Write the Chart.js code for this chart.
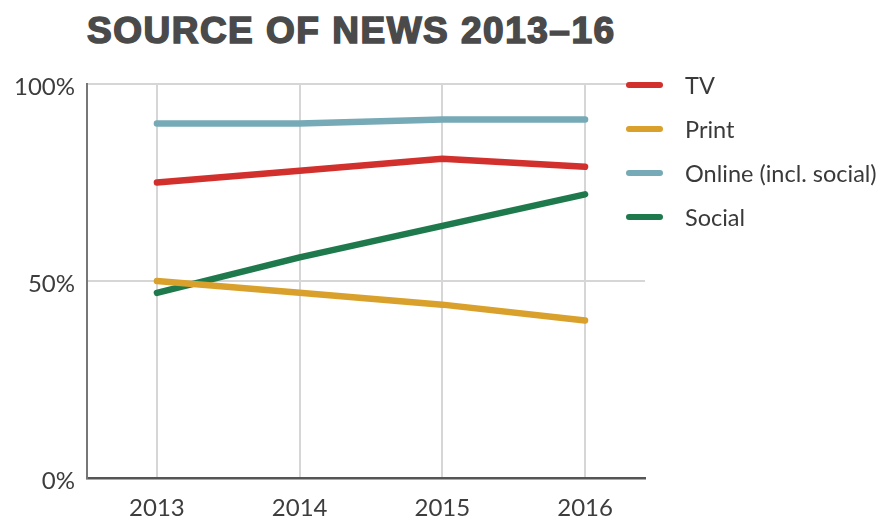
<!DOCTYPE html>
<html>
<head>
<meta charset="utf-8">
<script src="https://cdn.jsdelivr.net/npm/chart.js@4.4.0/dist/chart.umd.min.js"></script>
<style>
  body { margin: 0; background: #fff; }
  #wrap { position: relative; width: 876px; height: 520px; }
  #title {
    position: absolute; left: 87px; top: 10px; margin: 0;
    font: bold 37px "Liberation Sans", Arial, sans-serif; color: #4a4a4a;
    -webkit-text-stroke: 1.6px #4a4a4a; letter-spacing: 1.5px;
  }
  canvas { position: absolute; left: 0; top: 0; }
</style>
</head>
<body>
<div id="wrap">
  <h1 id="title">SOURCE OF NEWS 2013–16</h1>
  <canvas id="chart" width="876" height="520"></canvas>
</div>
<script>
// Dati
const years = [2013, 2014, 2015, 2016];
const seriesNames = ["TV", "Print", "Online (incl. social)", "Social"];
const tvValues = [75, 78, 81, 79];
const printValues = [50, 47, 44, 40];
const onlineValues = [90, 90, 91, 91];
const socialValues = [47, 56, 64, 72];
const yTickValues = [0, 50, 100];

const colors = ["#d2302c", "#d9a12b", "#77aab7", "#1e7a4c"];
const allValues = [tvValues, printValues, onlineValues, socialValues];

function toPoints(values) {
  return years.map((year, i) => ({ x: year, y: values[i] }));
}

// Legenda laterale disegnata a mano
const sideLegend = {
  id: "sideLegend",
  afterDraw(chart) {
    const ctx = chart.ctx;
    chart.data.datasets.forEach((ds, i) => {
      const y = 85 + i * 44;
      ctx.save();
      ctx.strokeStyle = ds.borderColor;
      ctx.lineWidth = 6;
      ctx.lineCap = "round";
      ctx.beginPath();
      ctx.moveTo(629, y);
      ctx.lineTo(660, y);
      ctx.stroke();
      ctx.fillStyle = "#3a3a3a";
      ctx.font = "23.5px Lato, sans-serif";
      ctx.textBaseline = "middle";
      ctx.fillText(ds.label, 685, y + 1);
      ctx.restore();
    });
  }
};

const datasets = seriesNames.map((name, i) => ({
  label: name,
  data: toPoints(allValues[i]),
  borderColor: colors[i],
  backgroundColor: colors[i],
  borderWidth: 6.5,
  borderCapStyle: "round",
  borderJoinStyle: "round",
  pointRadius: 0,
  tension: 0
}));

const tickFont = { family: "Lato, sans-serif", size: 24, weight: 400 };

new Chart(document.getElementById("chart"), {
  type: "line",
  data: { datasets },
  options: {
    responsive: false,
    animation: false,
    layout: { padding: { top: 84, right: 231, bottom: 0, left: 0 } },
    plugins: { legend: { display: false }, tooltip: { enabled: false } },
    scales: {
      x: {
        type: "linear",
        min: 2012.51,
        max: 2016.42,
        afterBuildTicks: (axis) => { axis.ticks = years.map((v) => ({ value: v })); },
        afterFit: (scale) => { scale.height = 42; },
        grid: { color: "#d6d6d6", lineWidth: 2, drawTicks: false },
        border: { color: "#555", width: 2.5 },
        ticks: {
          callback: (v) => String(v),
          color: "#3d3d3d",
          padding: 16,
          font: tickFont
        }
      },
      y: {
        min: 0,
        max: 100,
        afterBuildTicks: (axis) => { axis.ticks = yTickValues.map((v) => ({ value: v })); },
        afterFit: (scale) => { scale.width = 87; },
        grid: { color: "#d6d6d6", lineWidth: 2, drawTicks: false },
        border: { color: "#777", width: 2 },
        ticks: {
          callback: (v) => v + "%",
          color: "#3d3d3d",
          padding: 12,
          labelOffset: 3,
          font: tickFont
        }
      }
    }
  },
  plugins: [sideLegend]
});
</script>
</body>
</html>
